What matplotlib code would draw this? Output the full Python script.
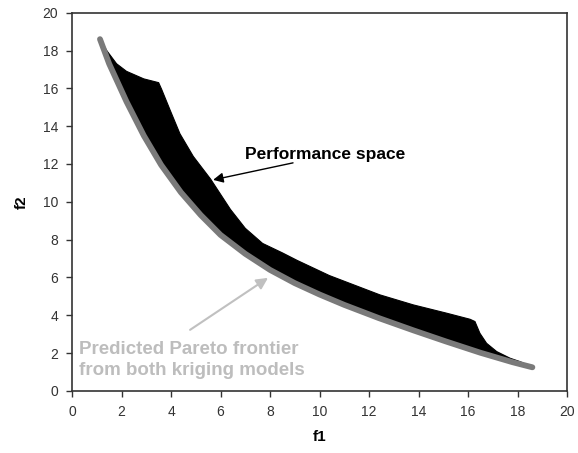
import matplotlib.pyplot as plt

plt.rcParams['font.family'] = ['Liberation Sans', 'DejaVu Sans']

# predicted Pareto frontier (gray line)
front_f1 = [1.13, 1.5, 2.2, 2.9, 3.6, 4.4, 5.2, 6.0, 7.0, 8.0, 9.0, 10.0,
            11.0, 12.4, 13.8, 15.1, 16.5, 17.8, 18.6]
front_f2 = [18.6, 17.3, 15.3, 13.5, 11.95, 10.5, 9.3, 8.25, 7.25, 6.4, 5.7,
            5.1, 4.55, 3.85, 3.2, 2.62, 2.02, 1.52, 1.25]

# upper edge of the performance space (black region)
upper_f1 = [1.13, 1.4, 1.8, 2.2, 2.9, 3.5, 3.62, 3.96, 4.36, 4.9, 5.6, 6.4,
            7.0, 7.7, 8.5, 9.1, 10.4, 11.4, 12.44, 13.79, 15.14, 16.08,
            16.28, 16.48, 16.75, 17.16, 17.7, 18.1, 18.6]
upper_f2 = [18.6, 18.0, 17.3, 16.9, 16.5, 16.3, 15.95, 14.86, 13.6, 12.4,
            11.2, 9.6, 8.6, 7.8, 7.3, 6.9, 6.1, 5.6, 5.08, 4.55, 4.11, 3.79,
            3.67, 3.05, 2.52, 2.08, 1.73, 1.55, 1.25]

ticks = list(range(0, 21, 2))

fig = plt.figure(figsize=(5.78, 4.53), dpi=100)
ax = fig.add_axes([0.1246, 0.137, 0.8564, 0.835])

# performance space as a filled polygon between the two edges
ax.fill(upper_f1 + front_f1[::-1], upper_f2 + front_f2[::-1],
        color='black', linewidth=0.8, edgecolor='black')
ax.plot(front_f1, front_f2, color='#7a7a7a', linewidth=4.2,
        solid_capstyle='round', solid_joinstyle='round')

# labels and their arrows
ax.text(6.99, 12.28, 'Performance space', fontsize=12.5,
        fontweight='bold', color='black', va='baseline')
ax.annotate('', xy=(5.70, 11.16), xytext=(8.93, 12.06),
            arrowprops=dict(arrowstyle='-|>', color='black', lw=1,
                            mutation_scale=15, shrinkA=0, shrinkB=0))
# baseline of a two-line text is set by its last line
ax.text(0.28, 0.85, 'Predicted Pareto frontier\nfrom both kriging models',
        fontsize=13.5, fontweight='bold', color='#bdbdbd', va='baseline',
        linespacing=1.3)
ax.annotate('', xy=(7.92, 5.98), xytext=(4.77, 3.23),
            arrowprops=dict(arrowstyle='-|>', color='#c0c0c0', lw=1.5,
                            mutation_scale=17, shrinkA=0, shrinkB=0))

ax.set_xlim(0, 20)
ax.set_ylim(0, 20)
ax.set_xticks(ticks)
ax.set_yticks(ticks)
ax.tick_params(direction='out', length=4, width=1, colors='#333333',
               labelsize=10, pad=6)
for s in ax.spines.values():
    s.set_color('#333333')
    s.set_linewidth(1.2)
ax.set_xlabel('f1', fontsize=11, fontweight='bold', labelpad=8)
ax.set_ylabel('f2', fontsize=11, fontweight='bold', labelpad=10)

plt.savefig('out.png', dpi=100)
